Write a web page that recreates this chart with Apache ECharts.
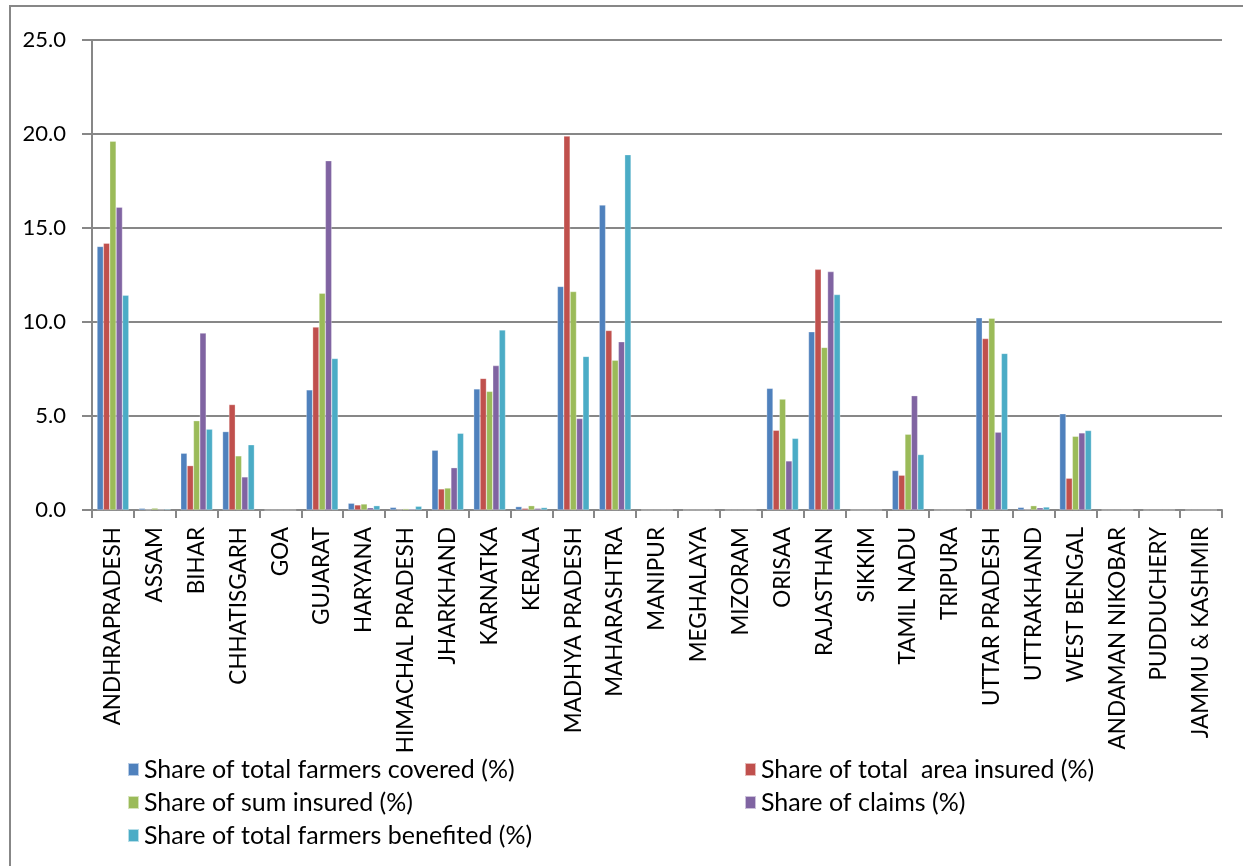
<!DOCTYPE html>
<html>
<head>
<meta charset="utf-8">
<title>State-wise shares</title>
<script src="https://cdn.jsdelivr.net/npm/echarts@6/dist/echarts.min.js"></script>
<style>
  html, body { margin: 0; padding: 0; background: #fff; }
  #chart { width: 1243px; height: 866px; }
</style>
</head>
<body>
<div id="chart"></div>
<script>
// States on the category axis
const states = [
  'ANDHRAPRADESH', 'ASSAM', 'BIHAR', 'CHHATISGARH', 'GOA', 'GUJARAT', 'HARYANA',
  'HIMACHAL PRADESH', 'JHARKHAND', 'KARNATKA', 'KERALA', 'MADHYA PRADESH',
  'MAHARASHTRA', 'MANIPUR', 'MEGHALAYA', 'MIZORAM', 'ORISAA', 'RAJASTHAN',
  'SIKKIM', 'TAMIL NADU', 'TRIPURA', 'UTTAR PRADESH', 'UTTRAKHAND', 'WEST BENGAL',
  'ANDAMAN NIKOBAR', 'PUDDUCHERY', 'JAMMU & KASHMIR'
];

// Series names
const seriesNames = [
  'Share of total farmers covered (%)',
  'Share of total  area insured (%)',
  'Share of sum insured (%)',
  'Share of claims (%)',
  'Share of total farmers benefited (%)'
];

// Share values per state (%)
const farmersCovered = [14.02, 0.09, 3.02, 4.17, 0, 6.39, 0.36, 0.14, 3.18, 6.44, 0.18, 11.89, 16.22, 0, 0, 0, 6.47, 9.48, 0, 2.10, 0, 10.22, 0.14, 5.12, 0, 0, 0];
const areaInsured    = [14.19, 0.02, 2.36, 5.61, 0, 9.73, 0.27, 0.03, 1.12, 7.00, 0.09, 19.89, 9.55, 0, 0, 0, 4.24, 12.80, 0, 1.85, 0, 9.12, 0.03, 1.69, 0, 0, 0];
const sumInsured     = [19.62, 0.10, 4.75, 2.88, 0, 11.53, 0.32, 0.07, 1.17, 6.31, 0.23, 11.62, 7.97, 0, 0, 0, 5.90, 8.65, 0, 4.03, 0, 10.20, 0.23, 3.92, 0, 0, 0];
const claims         = [16.11, 0.03, 9.41, 1.76, 0, 18.58, 0.12, 0.05, 2.25, 7.68, 0.09, 4.87, 8.95, 0, 0, 0, 2.61, 12.68, 0, 6.08, 0, 4.14, 0.12, 4.10, 0, 0, 0];
const benefited      = [11.42, 0.05, 4.30, 3.47, 0, 8.06, 0.23, 0.20, 4.08, 9.58, 0.13, 8.17, 18.90, 0, 0, 0, 3.81, 11.46, 0, 2.95, 0, 8.33, 0.16, 4.23, 0, 0, 0];

// Y axis ticks
const yMin = 0, yMax = 25, yStep = 5;

const colors = ['#4F81BD', '#C0504D', '#9BBB59', '#8064A2', '#4BACC6'];
const valueLists = [farmersCovered, areaInsured, sumInsured, claims, benefited];

const FONT = 'Lato, "Liberation Sans", sans-serif';
const GRID_GRAY = '#878787';

const chart = echarts.init(document.getElementById('chart'), null, { renderer: 'canvas' });

const series = seriesNames.map((name, i) => ({
  name: name,
  type: 'bar',
  data: valueLists[i],
  barGap: '0%',
  barCategoryGap: '24%',
  itemStyle: { color: colors[i], borderColor: 'rgba(255,255,255,0.6)', borderWidth: 0.5 },
  emphasis: { disabled: true }
}));

const legendText = { fontFamily: FONT, fontSize: 25, lineHeight: 25, color: '#000' };
const legendCommon = {
  orient: 'vertical', top: 757, height: 110,
  itemWidth: 11, itemHeight: 13, itemGap: 8, icon: 'rect',
  padding: 0,
  textStyle: legendText
};

chart.setOption({
  animation: false,
  color: colors,
  textStyle: { fontFamily: FONT },
  graphic: [{
    type: 'rect',
    shape: { x: 10, y: 6, width: 1260, height: 900 },
    style: { fill: 'none', stroke: GRID_GRAY, lineWidth: 2 },
    silent: true,
    z: -1
  }],
  grid: { left: 92, right: 21, top: 40, bottom: 356, containLabel: false },
  legend: [
    Object.assign({}, legendCommon, {
      left: 127,
      data: [seriesNames[0], seriesNames[2], seriesNames[4]]
    }),
    Object.assign({}, legendCommon, {
      left: 744,
      data: [seriesNames[1], seriesNames[3]]
    })
  ],
  xAxis: {
    type: 'category',
    data: states,
    boundaryGap: true,
    axisLine: { show: true, lineStyle: { color: GRID_GRAY, width: 2 } },
    axisTick: { show: true, length: 8, alignWithLabel: false, lineStyle: { color: GRID_GRAY, width: 2 } },
    axisLabel: {
      interval: 0, rotate: 90, margin: 17,
      fontFamily: FONT, fontSize: 22.5, color: '#000'
    },
    splitLine: { show: false }
  },
  yAxis: {
    type: 'value',
    min: yMin, max: yMax, interval: yStep,
    axisLine: { show: true, lineStyle: { color: GRID_GRAY, width: 2 } },
    axisTick: { show: true, inside: false, length: 10, lineStyle: { color: GRID_GRAY, width: 2 } },
    axisLabel: {
      margin: 26, fontFamily: FONT, fontSize: 22, color: '#000',
      formatter: v => v.toFixed(1)
    },
    splitLine: { show: true, lineStyle: { color: GRID_GRAY, width: 2 } }
  },
  series: series
});
</script>
</body>
</html>
